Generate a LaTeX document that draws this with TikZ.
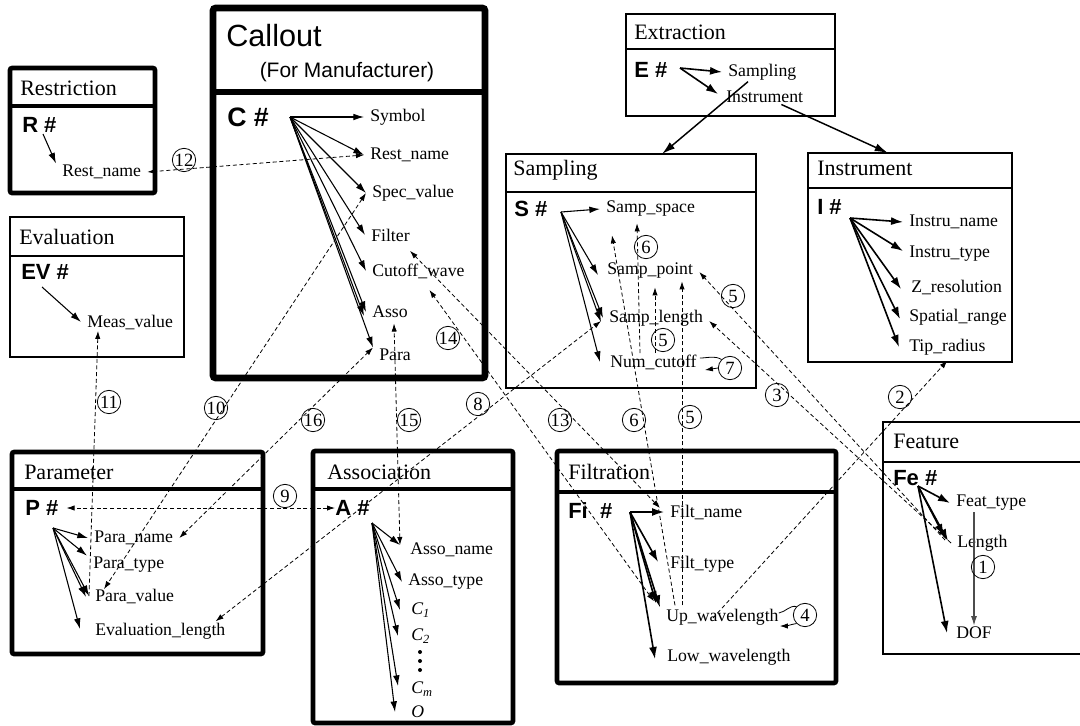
\documentclass[tikz,border=0pt]{standalone}
\usepackage{fontspec}
\setmainfont{Liberation Serif}
\newfontfamily\arialf{Liberation Sans}
\usetikzlibrary{arrows.meta,calc}
\newcommand\fldsz{\fontsize{13.3}{15}\selectfont}
\newcommand\ttlsz{\fontsize{16.5}{19}\selectfont}
\newcommand\keysz{\arialf\bfseries\fontsize{16.5}{19}\selectfont}
\tikzset{
 thinbox/.style={draw, line width=1.1pt},
 thickbox/.style={draw, line width=3.4pt, rounded corners=1.5pt},
 hugebox/.style={draw, line width=5pt, rounded corners=2pt},
 ttl/.style={anchor=west, font=\ttlsz, inner sep=0pt},
 keyn/.style={anchor=west, font=\keysz, inner sep=0pt},
 fld/.style={anchor=west, font=\fldsz, inner xsep=4.5pt, inner ysep=1pt},
 fan/.style={line width=0.8pt, -{Latex[length=8pt,width=5pt]}},
 fanb/.style={line width=1.2pt, -{Latex[length=9pt,width=6pt]}},
 link/.style={line width=0.6pt, dash pattern=on 3pt off 2pt, {Latex[length=6pt,width=4pt]}-{Latex[length=6pt,width=4pt]}},
 linkr/.style={line width=0.6pt, dash pattern=on 3pt off 2pt, -{Latex[length=6pt,width=4pt]}},
 num/.style={circle, draw, line width=0.6pt, inner sep=0pt, minimum size=17.5pt, font=\fontsize{14}{15}\selectfont},
}
\begin{document}
\begin{tikzpicture}[x=0.75pt,y=-0.75pt]
\useasboundingbox (0,0) rectangle (1080,725);
\fill[white] (0,0) rectangle (1080,725);

% ---------- Restriction
\draw[thickbox] (10,68) rectangle (155,193);
\draw[line width=3.4pt] (10,106) -- (155,106);
\node[ttl] (rt) at (20,88) {Restriction};
\node[keyn] (rk) at (22,125) {R \#};
\coordinate (r0) at (43,134);
\node[fld] (rrest) at (56,172) {Rest\_name};
\draw[fan] (r0) -- (rrest.north west);

% ---------- Evaluation
\draw[thinbox] (10,217) rectangle (184,357);
\draw[line width=1.1pt] (10,256) -- (184,256);
\node[ttl] (evt) at (19,237) {Evaluation};
\node[keyn] (evk) at (21,272) {EV \#};
\coordinate (ev0) at (42,287);
\node[fld] (meas) at (81,322) {Meas\_value};
\draw[fan] (ev0) -- (meas.west);

% ---------- Callout
\draw[hugebox] (213,8) rectangle (485,378);
\draw[line width=5pt] (213,92) -- (485,92);
\node[anchor=west, font=\arialf\fontsize{23}{26}\selectfont, inner sep=0pt] (ct) at (226,36) {Callout};
\node[font=\arialf\fontsize{15.7}{18}\selectfont, inner sep=0pt] (cts) at (347,72) {(For Manufacturer)};
\node[keyn, font=\arialf\bfseries\fontsize{20}{22}\selectfont] (ck) at (227,117) {C \#};
\coordinate (c0) at (290,117);
\node[fld] (sym) at (364,117) {Symbol};
\node[fld] (crest) at (364,155) {Rest\_name};
\node[fld] (cspec) at (366,193) {Spec\_value};
\node[fld] (cfilt) at (365,235) {Filter};
\node[fld] (ccut) at (366,271) {Cutoff\_wave};
\node[fld] (casso) at (366,312) {Asso};
\node[fld] (cpara) at (373,355) {Para};
\draw[fan] (c0) -- (sym.west);
\draw[fan] (c0) -- (crest.west);
\draw[fan] (c0) -- (cspec.west);
\draw[fan] (c0) -- (cfilt.west);
\draw[fan] (c0) -- (ccut.west);
\draw[fan] (c0) -- (casso.west);
\draw[fan] (c0) -- ($(casso.west)+(-2,4)$);
\draw[fan] (c0) -- (cpara.north west);

% ---------- Extraction
\draw[thinbox] (626,14) rectangle (835,116);
\draw[line width=1.1pt] (626,49) -- (835,49);
\node[ttl] (et) at (634,32) {Extraction};
\node[keyn] (ek) at (634,70) {E \#};
\coordinate (e0) at (680,68);
\node[fld] (esamp) at (722,72) {Sampling};
\node[fld] (einst) at (720,97) {Instrument};
\draw[fanb] (e0) -- (esamp.west);
\draw[fanb] (e0) -- ($(einst.west)+(-2,-3)$);

% ---------- Sampling
\draw[thinbox] (506,154) rectangle (756,388);
\draw[line width=1.1pt] (506,192) -- (756,192);
\coordinate (stop) at (662,154);
\draw[line width=1.1pt, -{Latex[length=10pt,width=6pt]}] ($(esamp.south west)+(26,0)$) -- (stop);
\node[ttl] (st) at (513,170) {Sampling};
\node[keyn] (sk) at (514,209) {S \#};
\coordinate (s0) at (561,212);
\node[fld] (sspace) at (600,209) {Samp\_space};
\node[fld] (spoint) at (601,271) {Samp\_point};
\node[fld] (slen) at (603,318) {Samp\_length};
\node[fld] (ncut) at (604,362) {Num\_cutoff};
\draw[fan] (s0) -- (sspace.west);
\draw[fan] (s0) -- ($(spoint.west)+(-3,4)$);
\draw[fan] (s0) -- (slen.west);
\draw[fan] (s0) -- ($(slen.west)+(-2,4)$);
\draw[fan] (s0) -- ($(ncut.west)+(-4,0)$);

% ---------- Instrument
\draw[thinbox] (808,153) rectangle (1012,362);
\draw[line width=1.1pt] (808,188) -- (1012,188);
\coordinate (itop) at (888,153);
\draw[line width=1.1pt, -{Latex[length=10pt,width=6pt]}] ($(einst.south east)+(-28,0)$) -- (itop);
\node[ttl] (it) at (817,168) {Instrument};
\node[keyn] (ik) at (817,207) {I \#};
\coordinate (i0) at (850,218);
\node[fld] (iname) at (903,222) {Instru\_name};
\node[fld] (itype) at (903,254) {Instru\_type};
\node[fld] (izres) at (905,287) {Z\_resolution};
\node[fld] (ispat) at (903,317) {Spatial\_range};
\node[fld] (itip) at (903,347) {Tip\_radius};
\draw[fanb] (i0) -- (iname.west);
\draw[fanb] (i0) -- ($(itype.west)+(0,-3)$);
\draw[fanb] (i0) -- ($(izres.west)+(-4,2)$);
\draw[fanb] (i0) -- ($(ispat.west)+(-3,2)$);
\draw[fanb] (i0) -- ($(itip.west)+(-4,0)$);

% ---------- Feature
\draw[thinbox] (883,422) rectangle (1100,654);
\draw[line width=1.1pt] (883,462) -- (1100,462);
\node[ttl] (ft) at (893,441) {Feature};
\node[keyn] (fk) at (893,478) {Fe \#};
\coordinate (fe0) at (918,486);
\node[fld] (ftype) at (950,503) {Feat\_type};
\node[fld] (flen) at (951,543) {Length};
\node[fld] (fdof) at (950,633) {DOF};
\draw[fanb] (fe0) -- (ftype.west);
\draw[fanb] (fe0) -- ($(flen.west)+(-3,-2)$);
\draw[fanb] (fe0) -- ($(flen.west)+(-7,-7)$);
\draw[fanb] (fe0) -- ($(fdof.west)+(-3,0)$);
\draw[gray!60!black, line width=0.8pt, -{Latex[length=7pt,width=4.5pt]}] ($(ftype.south west)+(24,0)$) -- ($(fdof.north west)+(24,0)$);
\node[num] (n1) at (983,567) {1};

% ---------- Filtration
\draw[thickbox] (557,451) rectangle (836,683);
\draw[line width=3.4pt] (557,492) -- (836,492);
\node[ttl] (fit) at (568,472) {Filtration};
\node[keyn] (fik) at (568,511) {Fi\ \ \#};
\coordinate (fi0) at (630,512);
\node[fld] (fname) at (664,512) {Filt\_name};
\node[fld] (ftyp) at (664,564) {Filt\_type};
\node[fld] (upw) at (660,617) {Up\_wavelength};
\node[fld] (loww) at (661,657) {Low\_wavelength};
\draw[fanb] (fi0) -- (fname.west);
\draw[fanb] (fi0) -- ($(ftyp.west)+(-6,-2)$);
\draw[fanb] (fi0) -- (upw.north west);
\draw[fanb] (fi0) -- ($(upw.north west)+(-4,-4)$);
\draw[fanb] (fi0) -- ($(loww.west)+(-6,2)$);
\node[num] (n4) at (805,615) {4};
\draw[line width=0.6pt] ($(upw.east)+(-6,-4)$) to[out=10,in=170] (n4.north west);
\draw[line width=0.6pt, -{Latex[length=6pt,width=4pt]}] (n4.south west) to[out=190,in=0] ($(upw.east)+(-5,9)$);

% ---------- Parameter
\draw[thickbox] (12,452) rectangle (263,654);
\draw[line width=3.4pt] (12,489) -- (263,489);
\node[ttl] (pt) at (24,472) {Parameter};
\node[keyn] (pk) at (25,508) {P \#};
\coordinate (p0) at (53,528);
\node[fld] (pname) at (88,538) {Para\_name};
\node[fld] (ptype) at (87,565) {Para\_type};
\node[fld] (pval) at (89,596) {Para\_value};
\node[fld] (evall) at (89,631) {Evaluation\_length};
\draw[fan] (p0) -- (pname.west);
\draw[fan] (p0) -- (ptype.north west);
\draw[fan] (p0) -- (pval.west);
\draw[fan] (p0) -- ($(pval.west)+(-3,1)$);
\draw[fan] (p0) -- ($(evall.west)+(-9,-2)$);

% ---------- Association
\draw[thickbox] (313,451) rectangle (513,723);
\draw[line width=3.4pt] (313,489) -- (513,489);
\node[ttl] (at) at (327,472) {Association};
\node[keyn] (ak) at (335,508) {A \#};
\coordinate (a0) at (372,523);
\node[fld] (aname) at (404,550) {Asso\_name};
\node[fld] (atype) at (402,582) {Asso\_type};
\node[fld] (ac1) at (405,610) {\itshape C\textsubscript{1}};
\node[fld] (ac2) at (405,636) {\itshape C\textsubscript{2}};
\node[fld] (acm) at (405,689) {\itshape C\textsubscript{m}};
\node[fld] (ao) at (405,712) {\itshape O};
\fill (420,652) circle (2);
\fill (420,661) circle (2);
\fill (420,670) circle (2);
\draw[fan] (a0) -- ($(aname.west)+(-4,-5)$);
\draw[fan] (a0) -- (atype.west);
\draw[fan] (a0) -- ($(ac1.west)+(-5,0)$);
\draw[fan] (a0) -- ($(ac2.west)+(-7,0)$);
\draw[fan] (a0) -- ($(acm.west)+(-7,-3)$);
\draw[fan] (a0) -- ($(ao.west)+(-10,0)$);

% ---------- dashed links
\draw[link] (crest.west) -- (rrest.east);
\node[num] (n12) at (184,160) {12};
\draw[link] (cspec.west) -- ($(pval.north west)+(15,2)$);
\node[num] (n10) at (216,408) {10};
\draw[linkr] (pval.west) -- ($(meas.south west)+(17,0)$);
\node[num] (n11) at (109,402) {11};
\draw[link] (pname.east) -- (cpara.north west);
\node[num] (n16) at (313,420) {16};
\draw[link] (ak.west) -- ($(pk.east)+(8,0)$);
\node[num] (n9) at (285,496) {9};
\draw[link] ($(evall.north east)+(-16,0)$) -- ($(slen.west)+(-2,3)$);
\node[num] (n8) at (478,404) {8};
\draw[link] ($(aname.west)+(-4,-5)$) -- ($(casso.south)+(4,4)$);
\node[num] (n15) at (409,420) {15};
\draw[link] ($(fname.west)+(-4,-4)$) -- ($(cfilt.south east)+(-6,8)$);
\node[num] (n13) at (560,420) {13};
\draw[link] ($(upw.north west)+(-6,-6)$) -- ($(ccut.south)+(11,10)$);
\node[num] (n14) at (448,338) {14};
\draw[linkr] ($(upw.north west)+(15,-2)$) -- ($(sspace.south west)+(12,17)$);
\node[num] (n6b) at (634,420) {6};
\draw[linkr] ($(ncut.north west)+(36,0)$) -- ($(sspace.south west)+(37,5)$);
\node[num] (n6a) at (646,247) {6};
\draw[linkr] ($(ncut.north west)+(51,0)$) -- ($(spoint.south west)+(54,7)$);
\node[num] (n5b) at (663,340) {5};
\draw[linkr] ($(upw.north west)+(22,-2)$) -- ($(spoint.south west)+(81,1)$);
\node[num] (n5c) at (690,417) {5};
\draw[linkr] ($(flen.west)+(-6,-3)$) -- ($(spoint.east)+(0,1)$);
\node[num] (n5a) at (733,296) {5};
\draw[linkr] (flen.west) -- ($(slen.east)+(0,3)$);
\node[num] (n3) at (777,395) {3};
\draw[linkr] ($(upw.west)+(53,1)$) -- ($(itip.south)+(0,4)$);
\node[num] (n2) at (900,397) {2};
\node[num] (n7) at (730,368) {7};
\draw[line width=0.6pt] ($(ncut.east)+(-3,-4)$) to[out=0,in=150] (n7.north west);
\draw[line width=0.6pt, -{Latex[length=6pt,width=4pt]}] (n7.west) -- ($(ncut.east)+(2,8)$);
\end{tikzpicture}
\end{document}
